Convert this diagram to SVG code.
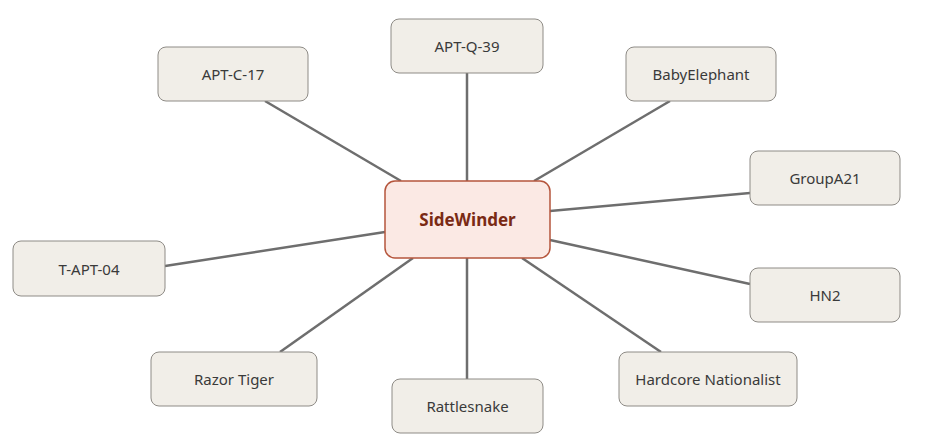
<svg xmlns="http://www.w3.org/2000/svg" width="936" height="448" viewBox="0 0 936 448">
<style>
.n rect{fill:#f1eee8;stroke:#8e8b86;stroke-width:1}
.n text{font-family:"Noto Sans","Open Sans",sans-serif;font-size:15px;fill:#3a3a3a;text-anchor:middle;dominant-baseline:central}
#edges line{stroke:#6e6e6e;stroke-width:2.5}
</style>
<rect width="936" height="448" fill="#fff"/>
<g id="edges">
<line x1="265" y1="101" x2="401" y2="181"/>
<line x1="467" y1="73" x2="467" y2="181"/>
<line x1="670" y1="101" x2="534" y2="181"/>
<line x1="750" y1="193" x2="550" y2="211"/>
<line x1="165" y1="266" x2="385" y2="232"/>
<line x1="750" y1="284" x2="550" y2="240"/>
<line x1="280" y1="352" x2="413" y2="258"/>
<line x1="467" y1="258" x2="467" y2="379"/>
<line x1="661" y1="352" x2="522" y2="258"/>
</g>
<g id="center" class="n"><rect x="385" y="181" width="165" height="77" rx="10" style="fill:#fbe9e4;stroke:#b5553c;stroke-width:1.5"/><text x="467.5" y="219.5" style="fill:#7a2a14;font-weight:bold;font-size:17px">SideWinder</text></g>
<g id="n1" class="n"><rect x="158" y="47" width="150" height="54" rx="8"/><text x="233" y="74">APT-C-17</text></g>
<g id="n2" class="n"><rect x="391" y="19" width="152" height="54" rx="8"/><text x="467" y="46">APT-Q-39</text></g>
<g id="n3" class="n"><rect x="626" y="47" width="150" height="54" rx="8"/><text x="701" y="74">BabyElephant</text></g>
<g id="n4" class="n"><rect x="750" y="151" width="150" height="54" rx="8"/><text x="825" y="178">GroupA21</text></g>
<g id="n5" class="n"><rect x="13" y="241" width="152" height="55" rx="8"/><text x="89" y="268.5">T-APT-04</text></g>
<g id="n6" class="n"><rect x="750" y="268" width="150" height="54" rx="8"/><text x="825" y="295">HN2</text></g>
<g id="n7" class="n"><rect x="151" y="352" width="166" height="54" rx="8"/><text x="234" y="379">Razor Tiger</text></g>
<g id="n8" class="n"><rect x="392" y="379" width="151" height="54" rx="8"/><text x="467.5" y="406">Rattlesnake</text></g>
<g id="n9" class="n"><rect x="619" y="352" width="178" height="54" rx="8"/><text x="708" y="379">Hardcore Nationalist</text></g>
</svg>
